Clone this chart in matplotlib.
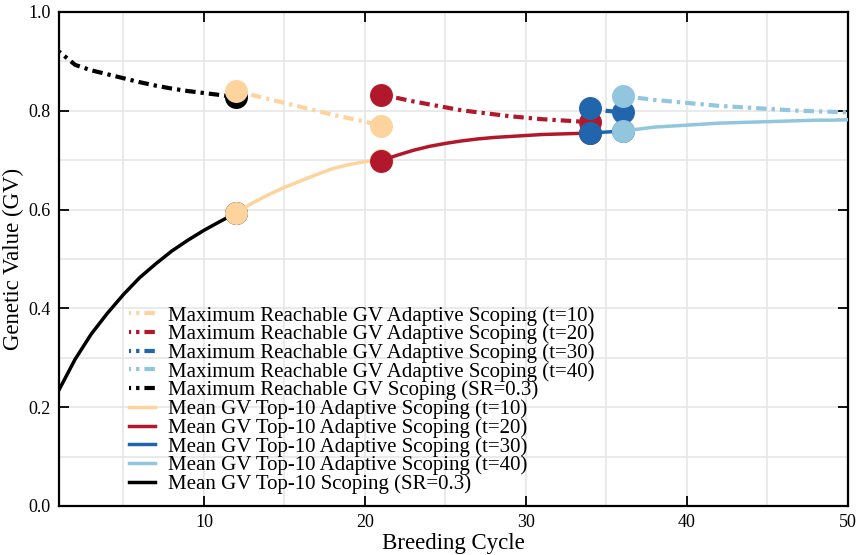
import numpy as np
import matplotlib
matplotlib.use("Agg")
import matplotlib.pyplot as plt
import matplotlib.ticker as ticker

plt.rcParams["font.family"] = "serif"
plt.rcParams["font.serif"] = ["Liberation Serif", "DejaVu Serif"]

# scoping (SR=0.3), cycles 1..12
x_scope = np.arange(1, 13)
mean_scope = [0.235, 0.297, 0.348, 0.390, 0.428, 0.462, 0.490, 0.516, 0.538, 0.558, 0.576, 0.593]
max_scope = [0.920, 0.893, 0.882, 0.874, 0.866, 0.858, 0.851, 0.845, 0.840, 0.836, 0.832, 0.828]

# adaptive t=10, cycles 12..21
x_t10 = np.arange(12, 22)
mean_t10 = [0.594, 0.613, 0.630, 0.645, 0.658, 0.671, 0.683, 0.691, 0.697, 0.700]
max_t10 = [0.840, 0.832, 0.824, 0.816, 0.808, 0.800, 0.792, 0.785, 0.778, 0.770]

# adaptive t=20, cycles 21..34
x_t20 = np.arange(21, 35)
mean_t20 = [0.699, 0.710, 0.720, 0.728, 0.734, 0.739, 0.743, 0.746, 0.748, 0.750, 0.752, 0.753, 0.754, 0.755]
max_t20 = [0.832, 0.826, 0.819, 0.813, 0.807, 0.801, 0.797, 0.793, 0.789, 0.786, 0.783, 0.781, 0.779, 0.777]

# adaptive t=30, cycles 34..36
x_t30 = np.arange(34, 37)
mean_t30 = [0.755, 0.757, 0.759]
max_t30 = [0.806, 0.800, 0.797]

# adaptive t=40, cycles 36..50
x_t40 = np.arange(36, 51)
mean_t40 = [0.759, 0.763, 0.767, 0.769, 0.771, 0.773, 0.775, 0.776, 0.777, 0.778, 0.779, 0.780, 0.781, 0.781, 0.782]
max_t40 = [0.830, 0.826, 0.822, 0.819, 0.816, 0.813, 0.810, 0.808, 0.806, 0.804, 0.802, 0.800, 0.799, 0.798, 0.797]

colors = {"t10": "#FDD49E", "t20": "#B2182B", "t30": "#2166AC", "t40": "#92C5DE", "sc": "black"}
dashdot = (2.0, (2.5, 1.2, 0.8, 1.2))

fig = plt.figure(figsize=(8.64, 5.55), dpi=100)
ax = fig.add_axes([59/864, 1-506/555, (848-59)/864, (506-12)/555])

series = [
    ("sc", x_scope, mean_scope, max_scope, "Scoping (SR=0.3)"),
    ("t10", x_t10, mean_t10, max_t10, "Adaptive Scoping (t=10)"),
    ("t20", x_t20, mean_t20, max_t20, "Adaptive Scoping (t=20)"),
    ("t30", x_t30, mean_t30, max_t30, "Adaptive Scoping (t=30)"),
    ("t40", x_t40, mean_t40, max_t40, "Adaptive Scoping (t=40)"),
]

handles = {}
for z, (key, xs, mn, mx, lab) in enumerate(series):
    c = colors[key]
    lmax, = ax.plot(xs, mx, color=c, lw=3, linestyle=dashdot, zorder=3+z,
                    label="Maximum Reachable GV " + lab)
    lmean, = ax.plot(xs, mn, color=c, lw=2.5, zorder=3+z,
                     label="Mean GV Top-10 " + lab)
    # markers where the scoping scheme switches
    if key == "sc":
        idx = [-1]
    elif key == "t40":
        idx = [0]
    else:
        idx = [0, -1]
    ax.plot([xs[i] for i in idx], [mx[i] for i in idx], "o", color=c, ms=15.5, zorder=3+z)
    ax.plot([xs[i] for i in idx], [mn[i] for i in idx], "o", color=c, ms=15.5, zorder=3+z)
    handles[key] = (lmax, lmean)

order = ["t10", "t20", "t30", "t40", "sc"]
hl = [handles[k][0] for k in order] + [handles[k][1] for k in order]
leg = ax.legend(handles=hl, loc="lower left", bbox_to_anchor=(0.07, -0.005),
                frameon=False, fontsize=15, handlelength=1.25,
                labelspacing=-0.05, handletextpad=0.65, borderpad=0.2)
leg.set_zorder(20)

ax.set_xlim(1, 50)
ax.set_ylim(0, 1.0)
ax.xaxis.set_major_locator(ticker.MultipleLocator(10))
ax.xaxis.set_minor_locator(ticker.MultipleLocator(5))
ax.yaxis.set_major_locator(ticker.MultipleLocator(0.2))
ax.yaxis.set_minor_locator(ticker.MultipleLocator(0.1))
ax.grid(True, which="both", color="#e6e6e6", lw=1.2, zorder=0)
ax.set_axisbelow(True)
ax.tick_params(which="major", direction="in", length=7, width=1.3,
               top=True, right=True, labelsize=13, pad=6)
ax.tick_params(which="minor", length=0)
for s in ax.spines.values():
    s.set_linewidth(1.6)
    s.set_color("black")

ax.set_xlabel("Breeding Cycle", fontsize=16.5, labelpad=1)
ax.set_ylabel("Genetic Value (GV)", fontsize=16.5, labelpad=3)

fig.savefig("out.png", dpi=100)
